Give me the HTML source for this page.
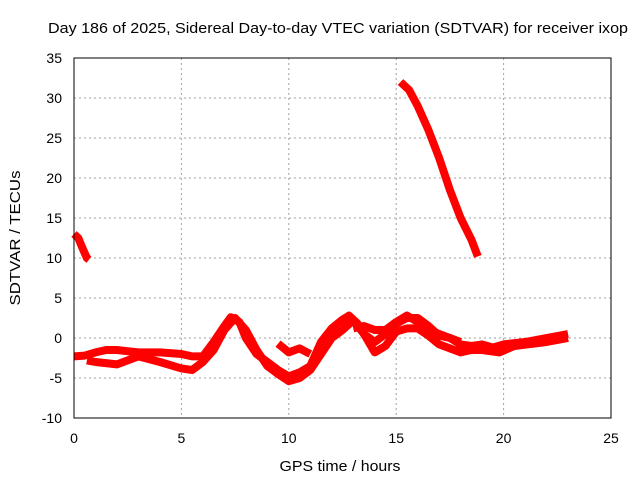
<!DOCTYPE html>
<html><head><meta charset="utf-8"><style>
body{margin:0;background:#fff}
svg{display:block;font-family:"Liberation Sans",sans-serif}
</style></head><body>
<svg id="chart" width="640" height="480">
<text x="338" y="33" font-size="15" text-anchor="middle" textLength="580" lengthAdjust="spacingAndGlyphs">Day 186 of 2025, Sidereal Day-to-day VTEC variation (SDTVAR) for receiver ixop</text>
<text x="340" y="471" font-size="15" text-anchor="middle" textLength="121" lengthAdjust="spacingAndGlyphs">GPS time / hours</text>
<text x="20" y="238" font-size="15" text-anchor="middle" textLength="135" lengthAdjust="spacingAndGlyphs" transform="rotate(-90 20 238)">SDTVAR / TECUs</text>
<g id="grid"></g><g id="ticks"></g><g id="series"></g>
<rect x="74" y="58" width="537" height="360" fill="none" stroke="#000"/>
</svg>
<script>
const xTicks=[0,5,10,15,20,25];
const yTicks=[-10,-5,0,5,10,15,20,25,30,35];
const seg1=[[0,13],[0.2,12.5],[0.4,11.2],[0.6,10],[0.7,9.8]];
const seg2=[[15.2,32],[15.6,31],[16,29],[16.5,26],[17,22.5],[17.5,18.5],[18,15],[18.5,12.3],[18.8,10.2]];
const trackA=[[0,-2.3],[0.5,-2.2],[1,-1.8],[1.5,-1.5],[2,-1.5],[3,-1.8],[4,-1.8],[5,-2],[5.5,-2.3],[6,-2.3],[6.5,-0.5],[7,1.5],[7.3,2.6],[7.7,2],[8,0],[8.5,-2],[9,-3],[9.5,-4],[10,-4.8],[10.5,-4.3],[11,-3.5],[11.5,-0.5],[12,1.2],[12.5,2.3],[12.8,2.8],[13.2,1.8],[13.5,0.5],[14,-0.5],[14.5,0.5],[15,1.8],[15.5,2.5],[16,2.5],[16.5,1.5],[17,0.3],[17.5,0],[18,-0.8],[18.5,-1],[19,-0.8],[19.5,-1.2],[20,-0.8],[21,-0.5],[22,0],[23,0.5]];
const trackB=[[0.6,-2.8],[1,-3],[2,-3.3],[3,-2.3],[4,-3],[5,-3.8],[5.5,-4],[6,-3],[6.5,-1.5],[7,1],[7.5,2.5],[8,1],[8.5,-1.5],[9,-3.5],[9.5,-4.5],[10,-5.4],[10.5,-5],[11,-4],[11.5,-2],[12,0],[12.5,1],[13,2.2],[13.5,0.5],[14,-1.8],[14.5,-1],[15,0.8],[15.5,1.2],[16,1.2],[16.5,0.3],[17,-0.8],[17.5,-1.3],[18,-1.8],[18.5,-1.5],[19,-1.5],[19.8,-1.8],[20.5,-1],[22,-0.5],[23,0]];
const trackC=[[9.5,-0.7],[10,-1.8],[10.5,-1.3],[11,-2]];
const trackD=[[13,1.2],[13.5,1.5],[14,1],[14.5,1],[15,2],[15.5,2.8],[16,2],[16.5,1],[17,0.5],[17.5,0],[18,-0.5]];
const NS="http://www.w3.org/2000/svg";
const X=v=>74+(v-0)*(537/25);
const Y=v=>418-(v+10)*(360/45);
function mk(tag,attrs,parent){const e=document.createElementNS(NS,tag);for(const k in attrs)e.setAttribute(k,attrs[k]);parent.appendChild(e);return e;}
const grid=document.getElementById('grid'),ticks=document.getElementById('ticks'),ser=document.getElementById('series');
xTicks.forEach(t=>{
  if(t>0&&t<25){const g=mk('line',{x1:X(t),x2:X(t),y1:58,y2:418,stroke:'#a0a0a0','stroke-dasharray':'2,3'},grid);
  
  }
  const l=mk('text',{x:X(t),y:443,'font-size':14,'text-anchor':'middle'},ticks);l.textContent=t;
  
  
});
yTicks.forEach(t=>{
  if(t>-10&&t<35){const g=mk('line',{x1:74,x2:611,y1:Y(t),y2:Y(t),stroke:'#a0a0a0','stroke-dasharray':'2,3'},grid);
  
  }
  const l=mk('text',{x:62,y:Y(t)+5,'font-size':14,'text-anchor':'end'},ticks);l.textContent=t;
  
  
});
[seg1,seg2,trackA,trackB,trackC,trackD].forEach(arr=>{
  const p=mk('polyline',{points:arr.map(d=>X(d[0])+','+Y(d[1])).join(' '),fill:'none',stroke:'#ff0000','stroke-width':8,'stroke-linejoin':'round','stroke-linecap':'butt'},ser);
  
  
});
</script>
</body></html>
